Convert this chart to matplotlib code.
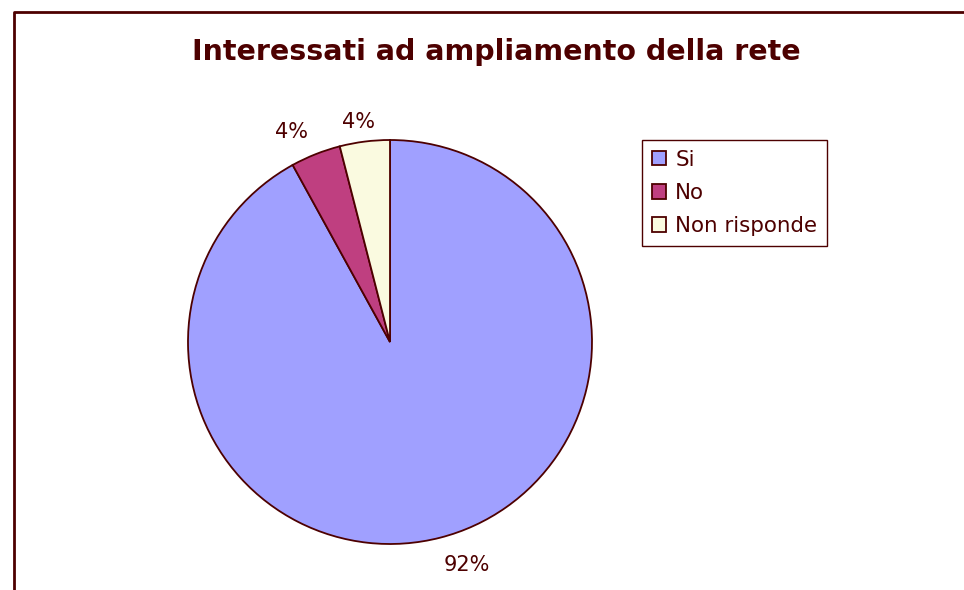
import matplotlib.pyplot as plt
from matplotlib.lines import Line2D

labels = ["Si", "No", "Non risponde"]
values = [92, 4, 4]
colors = ["#a0a0ff", "#bf3f80", "#fafae0"]
dark = "#4d0000"

fig = plt.figure(figsize=(9.64, 5.9), dpi=100)
fig.patch.set_facecolor("white")

# chart frame (only left and top edges are visible)
fig.add_artist(Line2D([14 / 964, 14 / 964, 1.01], [-0.01, 1 - 12 / 590, 1 - 12 / 590],
                      transform=fig.transFigure, color=dark, lw=2))

ax = fig.add_axes([188 / 964, 46 / 590, 404 / 964, 404 / 590])
wedges, texts = ax.pie(values, colors=colors, startangle=90, counterclock=False,
                       labels=[f"{v}%" for v in values], labeldistance=1.13,
                       wedgeprops=dict(edgecolor=dark, linewidth=1.3),
                       textprops=dict(color=dark, fontsize=15))
# nudge labels to where the original chart puts them
nudges = [(0.10, -0.01), (-0.07, -0.01), (-0.015, -0.03)]
for t, (dx, dy) in zip(texts, nudges):
    x, y = t.get_position()
    t.set_position((x + dx, y + dy))
    t.set_horizontalalignment("center")
    t.set_verticalalignment("center")
ax.set_xlim(-1, 1)
ax.set_ylim(-1, 1)
ax.set_aspect("equal")
ax.axis("off")

fig.text(496 / 964, 1 - 52 / 590, "Interessati ad ampliamento della rete",
         ha="center", va="center", fontsize=20.5, fontweight="bold", color=dark)

leg = fig.legend(wedges, labels, loc="upper left", bbox_to_anchor=(642 / 964, 1 - 140 / 590),
                 fancybox=False, framealpha=1, edgecolor=dark, fontsize=15.4,
                 handlelength=0.65, handleheight=0.65, handletextpad=0.45,
                 borderpad=0.45, labelspacing=0.62, borderaxespad=0)
for t in leg.get_texts():
    t.set_color(dark)
leg.get_frame().set_linewidth(1)

fig.savefig("out.png", dpi=100)
